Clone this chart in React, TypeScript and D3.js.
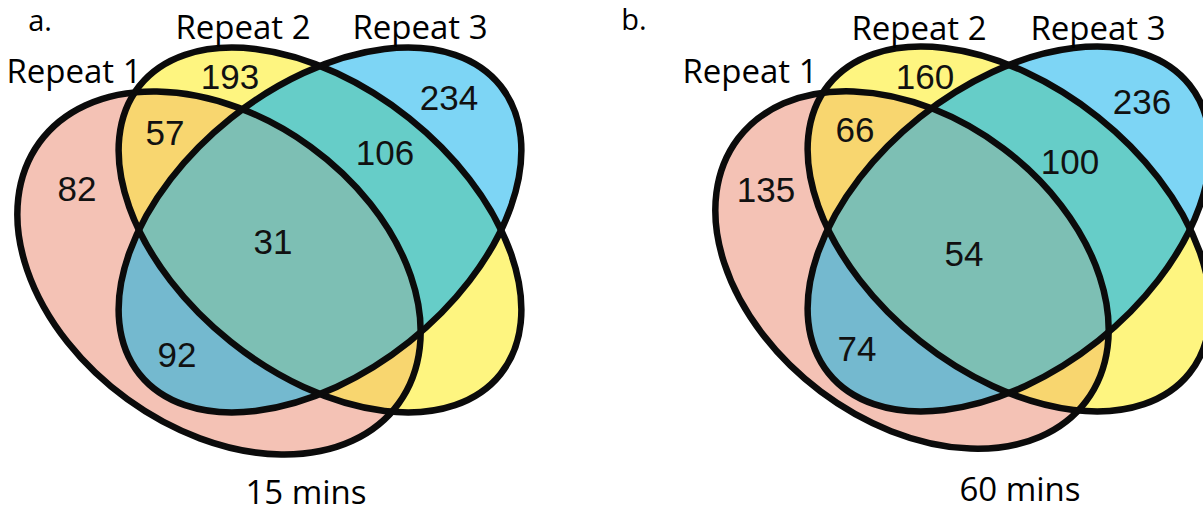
import React from "react";
import * as d3 from "d3";

// Set labels and panel captions
const setNames = ["Repeat 1", "Repeat 2", "Repeat 3"];
const panelTags = ["a.", "b."];
const timepoints = ["15 mins", "60 mins"];

// Region counts per panel: [only 1, only 2, only 3, 1∩2, 1∩3, 2∩3, 1∩2∩3]
const counts15 = [82, 193, 234, 57, 92, 106, 31];
const counts60 = [135, 160, 236, 66, 74, 100, 54];

const W = 1203;
const H = 514;

type Ell = { cx: number; cy: number; rx: number; ry: number; rot: number };

// Geometry of one panel in local units (panel a frame); panel b is translated
const panelGeo = [
  {
    dx: 0,
    dy: 0,
    pink: { cx: 219, cy: 273, rx: 222, ry: 156, rot: 36 },
    yellow: { cx: 320, cy: 230, rx: 231, ry: 143, rot: 38.6 },
    blue: { cx: 320, cy: 230, rx: 231, ry: 143, rot: -38.6 },
    tag: [40, 31],
    names: [[74, 83], [243, 39], [420, 39]],
    time: [306, 504],
    nums: [[77, 189], [230, 77], [449, 98], [165, 133], [177, 355], [385, 153], [273, 242]],
  },
  {
    dx: 689,
    dy: -1,
    pink: { cx: 223, cy: 271, rx: 218, ry: 152, rot: 37 },
    yellow: { cx: 320, cy: 230, rx: 231, ry: 143, rot: 38.6 },
    blue: { cx: 320, cy: 230, rx: 231, ry: 143, rot: -38.6 },
    tag: [-55, 31],
    names: [[61, 84], [230, 41], [409, 41]],
    time: [331, 502],
    nums: [[77, 191], [236, 78], [453, 103], [166, 131], [168, 350], [381, 163], [275, 255]],
  },
];

const allCounts = [counts15, counts60];

const colors = {
  pink: "#F4C2B5",
  yellow: "#FEF580",
  blue: "#7DD5F5",
  pinkYellow: "#F8D66F",
  pinkBlue: "#74B9CF",
  yellowBlue: "#66CDC8",
  all: "#7DBFB4",
  line: "#0b0b0b",
};

function Ellipse({ e, x, y, ...rest }: { e: Ell; x: d3.ScaleLinear<number, number>; y: d3.ScaleLinear<number, number>; [k: string]: any }) {
  const cx = x(e.cx);
  const cy = y(e.cy);
  return (
    <ellipse
      cx={cx}
      cy={cy}
      rx={e.rx}
      ry={e.ry}
      transform={`rotate(${e.rot} ${cx} ${cy})`}
      {...rest}
    />
  );
}

function Panel({ idx }: { idx: number }) {
  const g = panelGeo[idx];
  const values = allCounts[idx];
  const x = d3.scaleLinear().domain([0, 1]).range([g.dx, g.dx + 1]);
  const y = d3.scaleLinear().domain([0, 1]).range([g.dy, g.dy + 1]);
  const id = (s: string) => `p${idx}-${s}`;
  const numFont = "'Liberation Sans', Arial, sans-serif";
  const labelFont = "'Open Sans', 'Noto Sans', sans-serif";
  return (
    <g>
      <defs>
        <clipPath id={id("pink")}>
          <Ellipse e={g.pink} x={x} y={y} />
        </clipPath>
        <clipPath id={id("blue")}>
          <Ellipse e={g.blue} x={x} y={y} />
        </clipPath>
      </defs>
      <Ellipse e={g.pink} x={x} y={y} fill={colors.pink} />
      <Ellipse e={g.yellow} x={x} y={y} fill={colors.yellow} />
      <Ellipse e={g.blue} x={x} y={y} fill={colors.blue} />
      <g clipPath={`url(#${id("pink")})`}>
        <Ellipse e={g.yellow} x={x} y={y} fill={colors.pinkYellow} />
        <Ellipse e={g.blue} x={x} y={y} fill={colors.pinkBlue} />
      </g>
      <g clipPath={`url(#${id("blue")})`}>
        <Ellipse e={g.yellow} x={x} y={y} fill={colors.yellowBlue} />
        <g clipPath={`url(#${id("pink")})`}>
          <Ellipse e={g.yellow} x={x} y={y} fill={colors.all} />
        </g>
      </g>
      {[g.pink, g.yellow, g.blue].map((e, i) => (
        <Ellipse key={i} e={e} x={x} y={y} fill="none" stroke={colors.line} strokeWidth={6.5} />
      ))}
      {values.map((v, i) => (
        <text
          key={i}
          x={x(g.nums[i][0])}
          y={y(g.nums[i][1])}
          dy="0.35em"
          textAnchor="middle"
          fontFamily={numFont}
          fontSize={35}
          fill="#111"
        >
          {v}
        </text>
      ))}
      {setNames.map((n, i) => (
        <text
          key={n}
          x={x(g.names[i][0])}
          y={y(g.names[i][1])}
          textAnchor="middle"
          fontFamily={labelFont}
          fontSize={33}
          fill="#000"
        >
          {n}
        </text>
      ))}
      <text x={x(g.tag[0])} y={y(g.tag[1])} textAnchor="middle" fontFamily={labelFont} fontSize={29} fill="#000">
        {panelTags[idx]}
      </text>
      <text x={x(g.time[0])} y={y(g.time[1])} textAnchor="middle" fontFamily={labelFont} fontSize={33} fill="#000">
        {timepoints[idx]}
      </text>
    </g>
  );
}

export default function App() {
  return (
    <svg
      width={W}
      height={H}
      viewBox={`0 0 ${W} ${H}`}
      style={{ position: "absolute", left: 0, top: 0, background: "#fff" }}
    >
      <rect width={W} height={H} fill="#fff" />
      <Panel idx={0} />
      <Panel idx={1} />
    </svg>
  );
}
